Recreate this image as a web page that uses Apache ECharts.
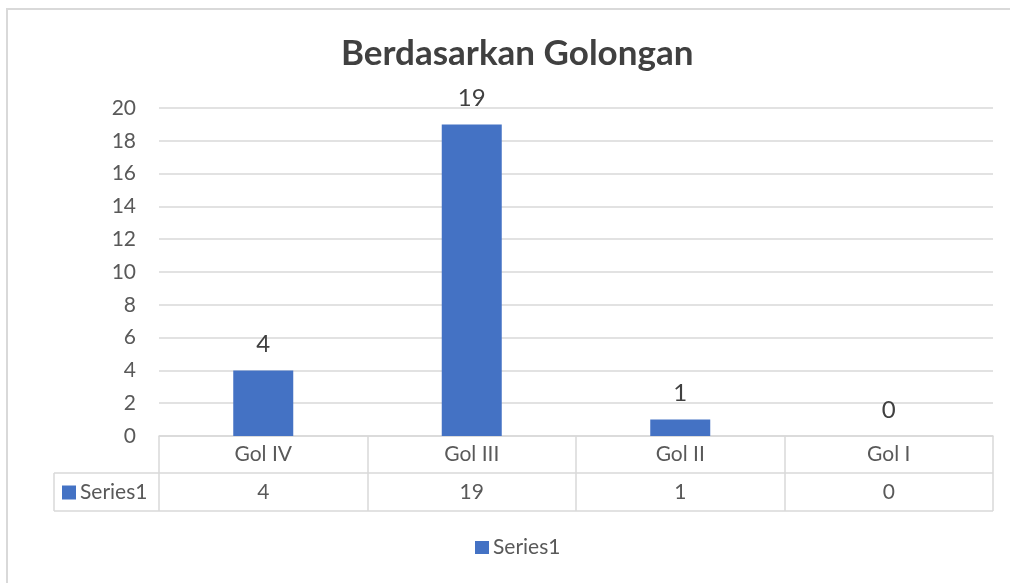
<!DOCTYPE html>
<html>
<head>
<meta charset="utf-8">
<script src="https://cdn.jsdelivr.net/npm/echarts@6/dist/echarts.min.js"></script>
<style>
html,body{margin:0;padding:0;background:#fff;}
#c{width:1010px;height:583px;}
</style>
</head>
<body>
<div id="c"></div>
<script>
const titleText = 'Berdasarkan Golongan';
const categories = ['Gol IV', 'Gol III', 'Gol II', 'Gol I'];
const seriesName = 'Series1';
const values = [4, 19, 1, 0];
const yTicks = { min: 0, max: 20, interval: 2 };

const FONT = 'Lato';
const GRID = { left: 159, right: 17, top: 108, bottom: 147 };
const lineC = '#d9d9d9';

const chart = echarts.init(document.getElementById('c'));
chart.setOption({
  animation: false,
  backgroundColor: '#fff',
  textStyle: { fontFamily: FONT },
  title: {
    text: titleText, left: 336, top: 31,
    textStyle: { fontFamily: FONT, fontWeight: 'bold', fontSize: 35, color: '#404040' }
  },
  legend: [
    {
      data: [seriesName], left: 475, top: 537, padding: 0, itemWidth: 14, itemHeight: 13, itemGap: 5,
      icon: 'rect', textStyle: { fontSize: 21, color: '#595959', fontFamily: FONT, padding: [0,0,0,-1] }
    },
    {
      data: [seriesName], left: 62, top: 482, padding: 0, itemWidth: 14, itemHeight: 14,
      icon: 'rect', textStyle: { fontSize: 21, color: '#595959', fontFamily: FONT, padding: [0,0,0,-1] }
    }
  ],
  grid: GRID,
  xAxis: [
    {
      type: 'category', data: categories, position: 'bottom',
      axisLine: { show: true, lineStyle: { color: lineC, width: 1.5 } },
      axisTick: { show: true, length: 75, lineStyle: { color: lineC, width: 1.5 } },
      axisLabel: { fontSize: 21, color: '#595959', margin: 8, fontFamily: FONT }
    },
    {
      type: 'category', data: categories, position: 'bottom',
      axisLine: { show: false }, axisTick: { show: false },
      axisLabel: { fontSize: 21, color: '#595959', margin: 46, fontFamily: FONT,
        formatter: (v, i) => String(values[i]) }
    }
  ],
  yAxis: {
    type: 'value', min: yTicks.min, max: yTicks.max, interval: yTicks.interval,
    axisLine: { show: false }, axisTick: { show: false },
    axisLabel: { fontSize: 21, color: '#595959', margin: 23, fontFamily: FONT },
    splitLine: { lineStyle: { color: lineC, width: 1.5 } }
  },
  series: [{
    name: seriesName, type: 'bar', data: values, barWidth: 60,
    itemStyle: { color: '#4472c4' },
    label: { show: true, position: 'top', distance: 14, fontSize: 24, color: '#404040', fontFamily: FONT }
  }],
  graphic: [
    { type: 'rect', shape: { x: 7, y: 9, width: 1200, height: 800 }, style: { fill: 'none', stroke: lineC, lineWidth: 2 }, silent: true },
    { type: 'line', shape: { x1: 54, y1: 473, x2: 993, y2: 473 }, style: { stroke: lineC, lineWidth: 1.5 }, silent: true },
    { type: 'line', shape: { x1: 54, y1: 511, x2: 993, y2: 511 }, style: { stroke: lineC, lineWidth: 1.5 }, silent: true },
    { type: 'line', shape: { x1: 54, y1: 473, x2: 54, y2: 511 }, style: { stroke: lineC, lineWidth: 1.5 }, silent: true }
  ]
});
</script>
</body>
</html>
